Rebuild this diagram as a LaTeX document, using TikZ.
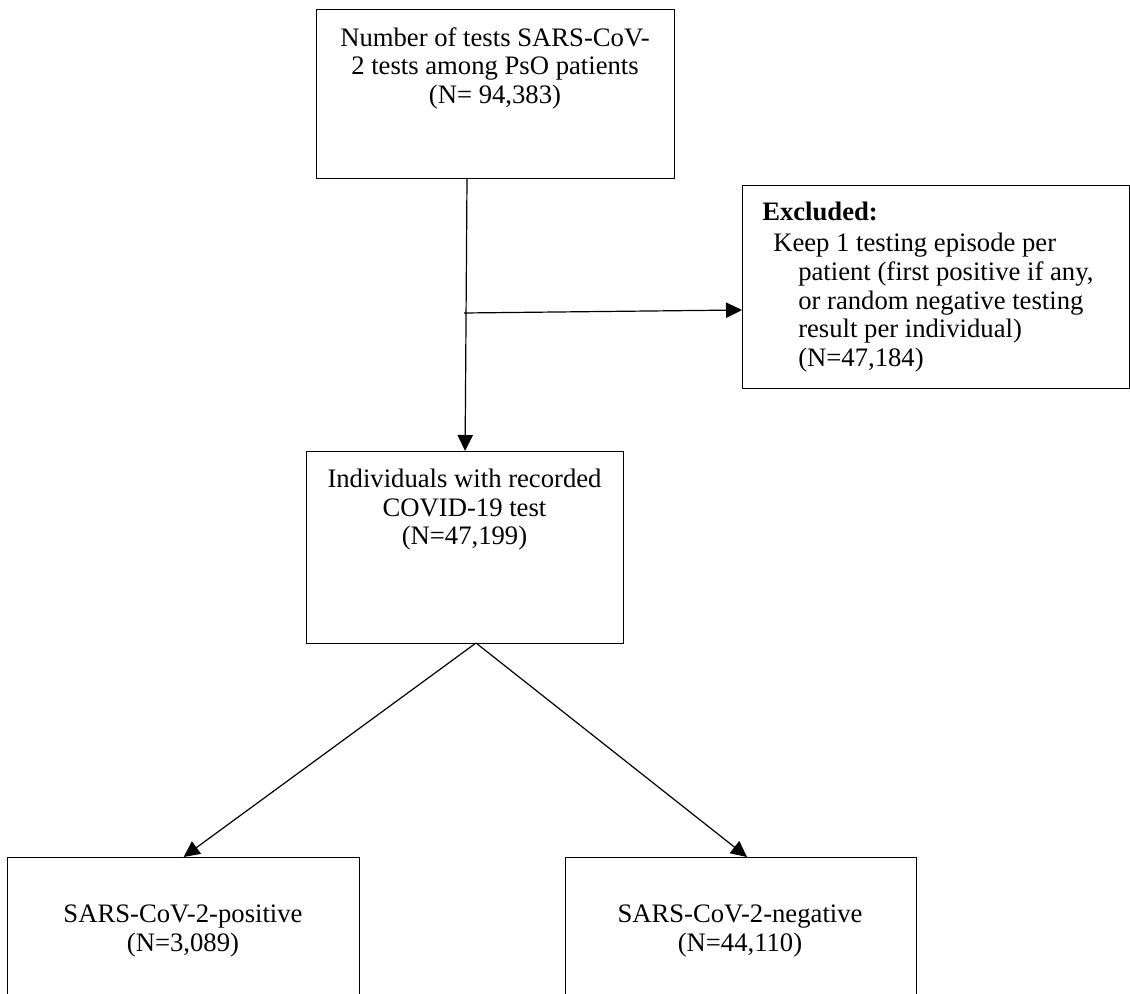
\documentclass[tikz,border=0pt]{standalone}
\usepackage{fontspec}
\setmainfont{Liberation Serif}
\usetikzlibrary{arrows.meta}
\begin{document}
\begin{tikzpicture}[x=0.75pt,y=-0.75pt,
  box/.style={draw, line width=0.9pt, inner sep=0pt, anchor=north west},
  txt/.style={inner sep=0pt, font=\fontsize{20}{21.4}\selectfont, align=center, anchor=north},
  arr/.style={-{Triangle[length=12pt,width=11.5pt]}, line width=0.9pt}]
\useasboundingbox (0,0) rectangle (1130,994);
\clip (0,0) rectangle (1130,994);
% boxes
\node[box, minimum width=268.5pt, minimum height=126.75pt] (top) at (316,9) {};
\node[box, minimum width=237.75pt, minimum height=144pt] (mid) at (306,451) {};
\node[box, minimum width=290.25pt, minimum height=152.25pt] (exc) at (742,185) {};
\node[box, minimum width=264pt, minimum height=114.75pt] (pos) at (7,857) {};
\node[box, minimum width=263.25pt, minimum height=114.75pt] (neg) at (565,857) {};
% texts
\node[txt] (ttop) at (495,27) {Number of tests SARS-CoV-\\2 tests among PsO patients\\(N= 94,383)};
\node[txt] (tmid) at (464.5,469) {Individuals with recorded\\COVID-19 test\\(N=47,199)};
\node[txt, align=left, anchor=north west] (texc) at (762,202) {\textbf{Excluded:}\\[2pt]\hspace*{8.25pt}Keep 1 testing episode per\\\hspace*{27pt}patient (first positive if any,\\\hspace*{27pt}or random negative testing\\\hspace*{27pt}result per individual)\\\hspace*{27pt}(N=47,184)};
\node[txt] (tpos) at (183,905) {SARS-CoV-2-positive\\(N=3,089)};
\node[txt] (tneg) at (740,905) {SARS-CoV-2-negative\\(N=44,110)};
% connectors
\coordinate (v1) at (467,178);
\coordinate (h1) at (464,313);
\coordinate (h2) at (742,310);
\coordinate (split) at (476,643);
\coordinate (negin) at (747,857);
\draw[arr] (v1) -- (mid.north);
\draw[arr] (h1) -- (h2);
\draw[arr] (split) -- (pos.north);
\draw[arr] (split) -- (negin);
\end{tikzpicture}
\end{document}
